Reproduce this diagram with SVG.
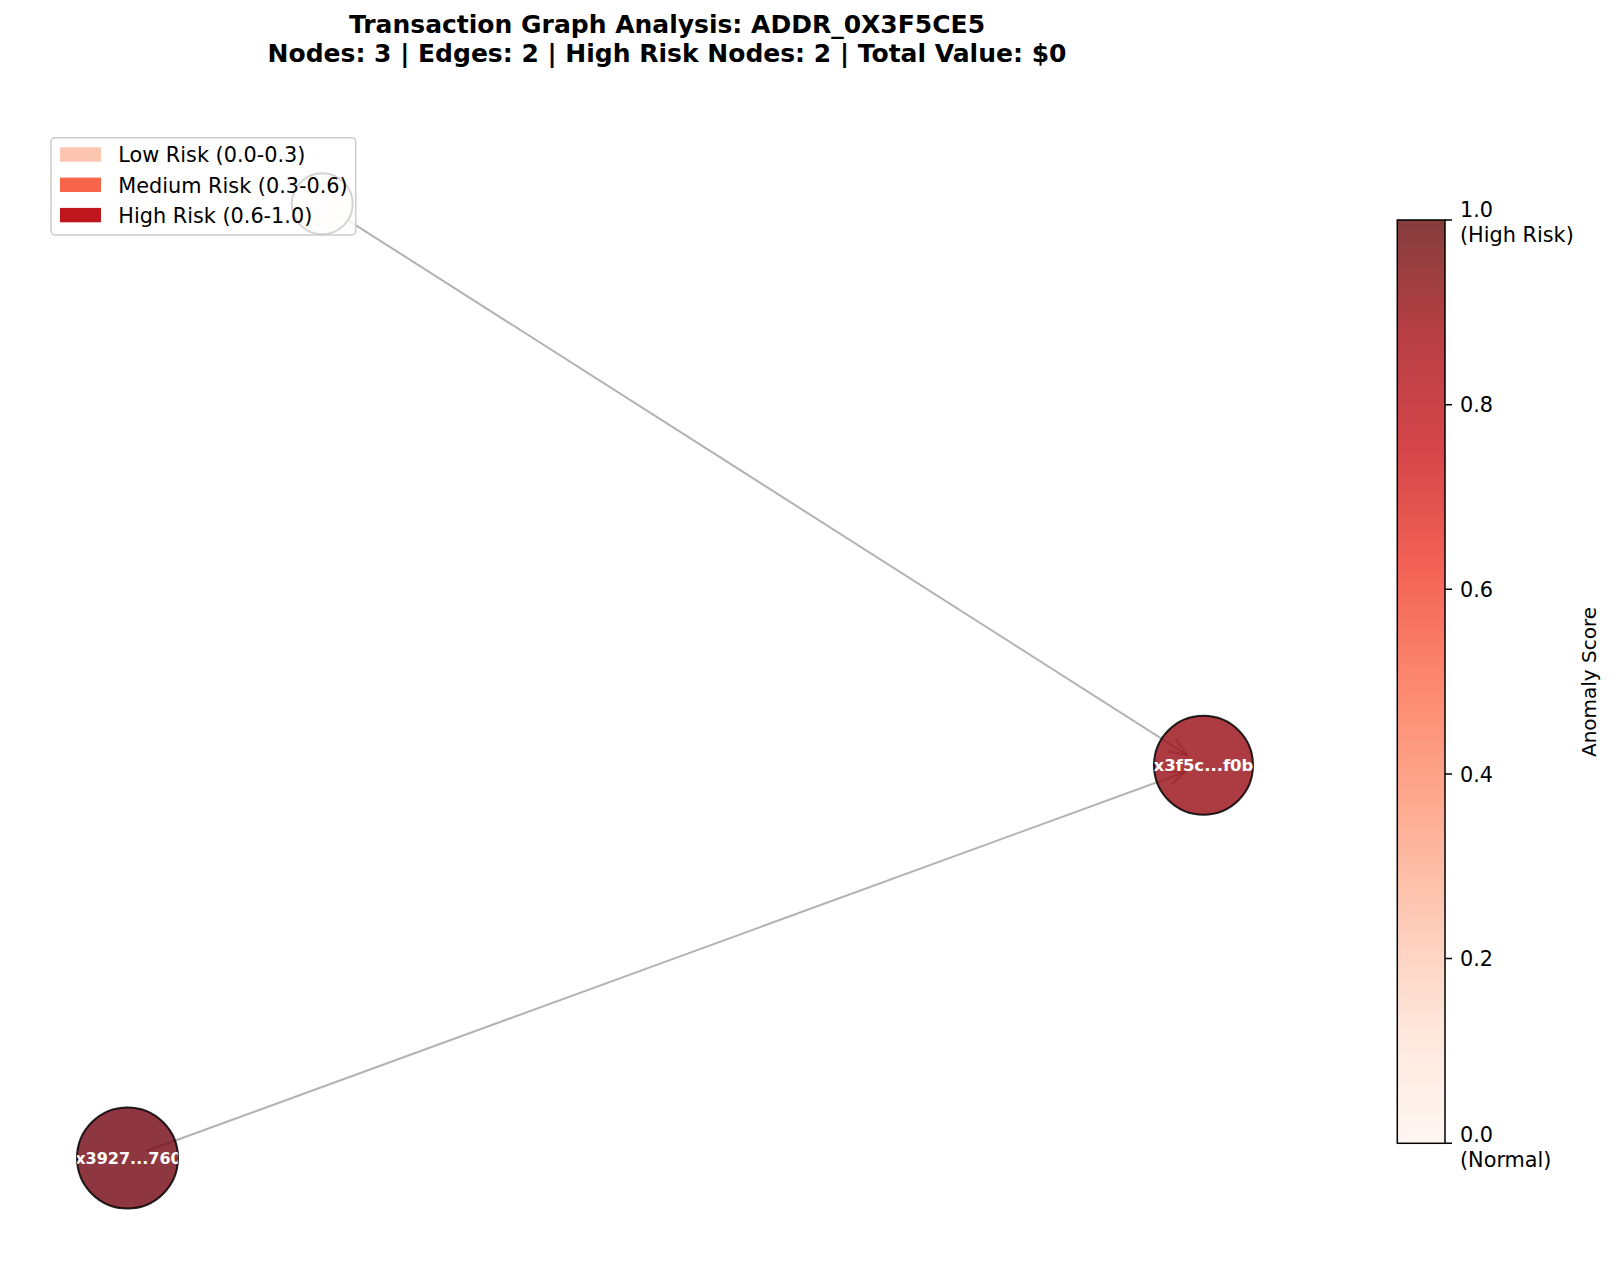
<svg xmlns="http://www.w3.org/2000/svg" width="1616" height="1274" viewBox="0 0 1616 1274">
<defs>
<style>
.title{font-family:"DejaVu Sans",sans-serif;font-weight:bold;font-size:25px;fill:#000;text-anchor:middle}
.lbl{font-family:"DejaVu Sans",sans-serif;font-size:20.8px;fill:#000}
.nlbl{font-family:"DejaVu Sans",sans-serif;font-weight:bold;font-size:16.5px;fill:#fff;text-anchor:middle}
.edge{stroke:#808080;stroke-opacity:0.6;stroke-width:2;fill:none}
.node{stroke:#000;stroke-opacity:0.85;stroke-width:2}
.tick{stroke:#000;stroke-width:1.5}
</style>
<linearGradient id="reds" x1="0" y1="1" x2="0" y2="0">
<stop offset="0" stop-color="#fff7f3"/>
<stop offset="0.125" stop-color="#fee6db"/>
<stop offset="0.25" stop-color="#fdc9b4"/>
<stop offset="0.375" stop-color="#fda88e"/>
<stop offset="0.5" stop-color="#fc886e"/>
<stop offset="0.625" stop-color="#f26256"/>
<stop offset="0.75" stop-color="#d5464a"/>
<stop offset="0.875" stop-color="#b73f44"/>
<stop offset="1" stop-color="#853d3d"/>
</linearGradient>
<clipPath id="cR"><circle cx="1203.5" cy="765.3" r="49.5"/></clipPath>
<clipPath id="cB"><circle cx="127.5" cy="1158" r="50.5"/></clipPath>
</defs>
<rect width="1616" height="1274" fill="#fff"/>

<text class="title" x="667" y="33">Transaction Graph Analysis: ADDR_0X3F5CE5</text>
<text class="title" x="667" y="62">Nodes: 3 | Edges: 2 | High Risk Nodes: 2 | Total Value: $0</text>

<g id="connectors">
<path class="edge" d="M338.7,214.3 L1187,754.8"/>
<path class="edge" d="M1168.3,751.3 L1187,754.8 L1176,739.3"/>
<path class="edge" d="M145.9,1151.3 L1185.1,772"/>
<path class="edge" d="M1171,784.7 L1185.1,772 L1166.1,771.4"/>
</g>

<g id="node-top">
<circle class="node" cx="322.2" cy="203.8" r="30.5" fill="#fff5f0" fill-opacity="0.8"/>
</g>
<g id="node-0x3f5c">
<circle class="node" cx="1203.5" cy="765.3" r="49.5" fill="#980b13" fill-opacity="0.8"/>
<text class="nlbl" x="1203.5" y="771.2" clip-path="url(#cR)">x3f5c...f0b</text>
</g>
<g id="node-0x3927">
<circle class="node" cx="127.5" cy="1158" r="50.5" fill="#730510" fill-opacity="0.8"/>
<text class="nlbl" x="128.5" y="1163.8" clip-path="url(#cB)" style="font-size:16px">x3927...760</text>
</g>

<g id="legend">
<rect x="51" y="137.7" width="304.7" height="97.3" rx="4" fill="#fff" fill-opacity="0.8" stroke="#cccccc" stroke-width="1.5"/>
<rect x="60" y="147.3" width="41" height="14.4" fill="#fcc5b0"/>
<rect x="60" y="177.6" width="41" height="14.4" fill="#f6644a"/>
<rect x="60" y="207.9" width="41" height="14.4" fill="#bf161e"/>
<text class="lbl" x="118.3" y="162.3">Low Risk (0.0-0.3)</text>
<text class="lbl" x="118.3" y="192.6">Medium Risk (0.3-0.6)</text>
<text class="lbl" x="118.3" y="222.9">High Risk (0.6-1.0)</text>
</g>

<g id="colorbar">
<rect x="1397.3" y="220" width="47.7" height="923.3" fill="url(#reds)" stroke="#000" stroke-width="1.5"/>
<path class="tick" d="M1445,220H1452M1445,404.7H1452M1445,589.3H1452M1445,774H1452M1445,958.6H1452M1445,1143.3H1452"/>
<text class="lbl" x="1460" y="216.5">1.0</text>
<text class="lbl" x="1460" y="241.5">(High Risk)</text>
<text class="lbl" x="1460" y="412">0.8</text>
<text class="lbl" x="1460" y="596.8">0.6</text>
<text class="lbl" x="1460" y="781.5">0.4</text>
<text class="lbl" x="1460" y="966.1">0.2</text>
<text class="lbl" x="1460" y="1142">0.0</text>
<text class="lbl" x="1460" y="1166.5">(Normal)</text>
<text class="lbl" transform="translate(1596,682) rotate(-90)" text-anchor="middle" style="font-size:20px">Anomaly Score</text>
</g>
</svg>
